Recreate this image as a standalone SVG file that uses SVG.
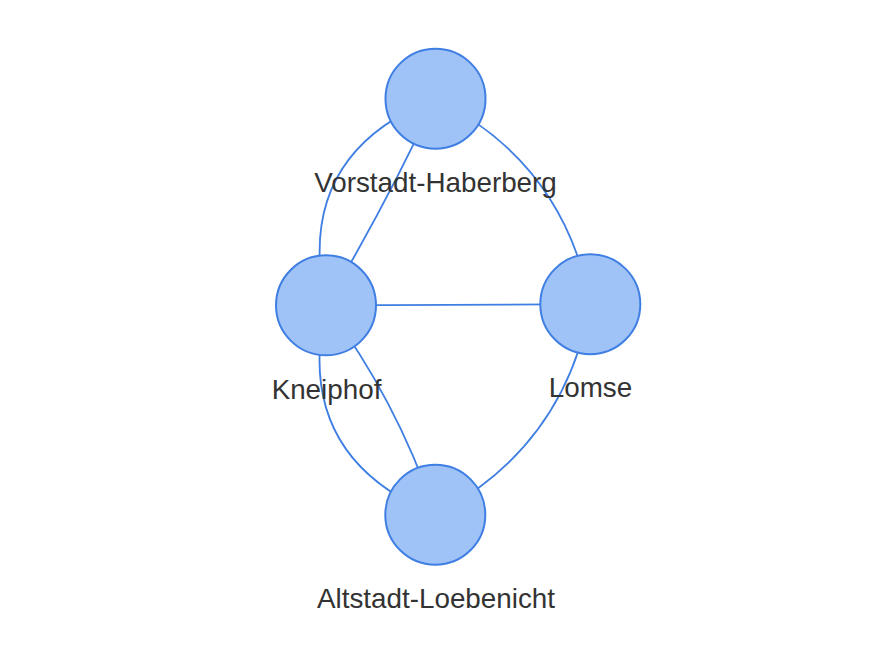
<svg xmlns="http://www.w3.org/2000/svg" width="874" height="654" viewBox="0 0 874 654">
<style>
.edge{fill:none;stroke:#3f7ee3;stroke-width:1.8}
.node circle{fill:#9fc3f6;stroke:#3f7ee3;stroke-width:2}
.node text{font-family:"Liberation Sans",Arial,sans-serif;font-size:27.8px;fill:#333333;text-anchor:middle}
</style>
<rect width="874" height="654" fill="#ffffff"/>
<g id="edges">
<path class="edge" d="M435.5,98.7 Q292.4,155.2 326,305.3"/>
<path class="edge" d="M435.5,98.7 Q386,204.8 326,305.3"/>
<path class="edge" d="M435.5,98.7 Q564,163 590.3,304.2"/>
<path class="edge" d="M326,305.3 L590.3,304.2"/>
<path class="edge" d="M326,305.3 Q292,456.3 435.3,514.7"/>
<path class="edge" d="M326,305.3 Q397.5,401.2 435.3,514.7"/>
<path class="edge" d="M590.3,304.2 Q564.3,447.4 435.3,514.7"/>
</g>
<g id="vorstadt-haberberg" class="node">
<circle cx="435.5" cy="98.7" r="50"/>
<text x="435.5" y="192">Vorstadt-Haberberg</text>
</g>
<g id="kneiphof" class="node">
<circle cx="326" cy="305.3" r="50"/>
<text x="326.5" y="398.5">Kneiphof</text>
</g>
<g id="lomse" class="node">
<circle cx="590.3" cy="304.2" r="50"/>
<text x="590.5" y="397">Lomse</text>
</g>
<g id="altstadt-loebenicht" class="node">
<circle cx="435.3" cy="514.7" r="50"/>
<text x="436" y="607.5">Altstadt-Loebenicht</text>
</g>
</svg>
